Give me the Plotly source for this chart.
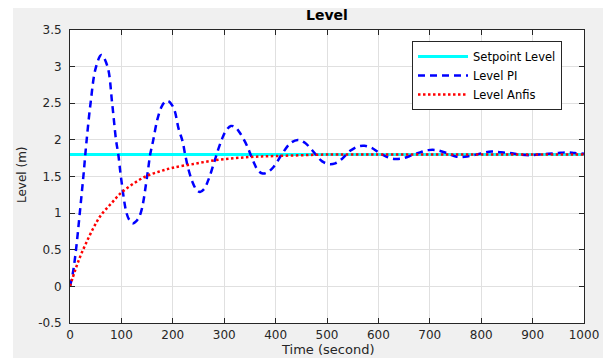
import plotly.graph_objects as go

# ---------------- data ----------------
setpoint_t = [0, 1000]
setpoint_v = [1.8, 1.8]

pi_t = [0, 6, 12, 19, 26, 32, 40, 50, 61, 73, 82, 89.5, 94, 99, 110, 116, 122, 129,
        137.5, 150, 156, 162, 170, 178, 185, 191, 198, 204, 211, 219, 224, 230, 238,
        246, 253, 261, 269, 279, 287, 295, 303, 313, 322, 331, 345, 357, 366, 375,
        385, 396, 412, 428, 443, 457, 477, 490, 503, 516, 529, 545, 560, 573, 587,
        602, 616, 632, 648, 665, 681, 697, 713, 733, 752, 768, 785, 803, 820, 838,
        856, 875, 895, 912, 931, 948, 966, 982, 1000]
pi_v = [0.00, 0.20, 0.52, 1.00, 1.50, 1.97, 2.50, 2.98, 3.16, 3.00, 2.50, 2.00, 1.80,
        1.50, 1.00, 0.90, 0.86, 0.89, 1.00, 1.50, 1.80, 2.00, 2.28, 2.45, 2.52, 2.53,
        2.48, 2.39, 2.16, 1.98, 1.80, 1.61, 1.43, 1.32, 1.29, 1.33, 1.45, 1.66, 1.84,
        2.00, 2.12, 2.19, 2.17, 2.09, 1.91, 1.70, 1.58, 1.54, 1.56, 1.63, 1.80, 1.95,
        2.00, 1.96, 1.81, 1.71, 1.67, 1.68, 1.74, 1.85, 1.91, 1.92, 1.89, 1.82, 1.77,
        1.74, 1.75, 1.79, 1.83, 1.86, 1.86, 1.82, 1.77, 1.77, 1.79, 1.82, 1.84, 1.83,
        1.82, 1.80, 1.79, 1.80, 1.81, 1.82, 1.83, 1.82, 1.81]

anfis_t = [0, 10, 20, 30, 45, 60, 80, 100, 125, 150, 175, 200, 240, 280, 320, 360,
           400, 450, 500, 600, 700, 800, 900, 1000]
anfis_v = [0.00, 0.22, 0.41, 0.57, 0.79, 0.97, 1.13, 1.28, 1.41, 1.51, 1.57, 1.62,
           1.67, 1.72, 1.75, 1.77, 1.78, 1.79, 1.80, 1.80, 1.80, 1.80, 1.80, 1.80]

x_ticks = [0, 100, 200, 300, 400, 500, 600, 700, 800, 900, 1000]
x_ticklabels = ["0", "100", "200", "300", "400", "500", "600", "700", "800", "900", "1000"]
y_ticks = [-0.5, 0, 0.5, 1, 1.5, 2, 2.5, 3, 3.5]
y_ticklabels = ["-0.5", "0", "0.5", "1", "1.5", "2", "2.5", "3", "3.5"]

series_names = ["Setpoint Level", "Level PI", "Level Anfis"]

# ---------------- figure ----------------
OFF = 8                      # page body margin
W, H = 611 - OFF, 358 - OFF
# target plot area in page pixels: x 70..584, y 30..323
ML, MR, MT, MB = 70 - OFF, 611 - 584, 30 - OFF, 358 - 323
FONT = "DejaVu Sans"
AX = "#262626"

fig = go.Figure()
fig.add_trace(go.Scatter(x=setpoint_t, y=setpoint_v, mode="lines", name=series_names[0],
                         line=dict(color="#00ffff", width=3)))
fig.add_trace(go.Scatter(x=pi_t, y=pi_v, mode="lines", name=series_names[1],
                         line=dict(color="#0000ff", width=2.5, dash="7px,5px",
                                   shape="spline", smoothing=1.0)))
fig.add_trace(go.Scatter(x=anfis_t, y=anfis_v, mode="lines", name=series_names[2],
                         line=dict(color="#ff0000", width=2.5, dash="2.5px,2.5px",
                                   shape="spline", smoothing=1.0)))

pw = W - ML - MR
ph = H - MT - MB


def px_x(p):
    """page pixel x -> paper coordinate"""
    return (p - OFF - ML) / pw


def px_y(p):
    """page pixel y -> paper coordinate"""
    return 1 - (p - OFF - MT) / ph


axis_common = dict(showline=True, linecolor=AX, linewidth=1, mirror="ticks",
                   ticks="inside", ticklen=5, tickcolor=AX, showgrid=True,
                   gridcolor="#e0e0e0", gridwidth=1, zeroline=False,
                   tickfont=dict(family=FONT, size=12, color=AX))

fig.update_layout(
    width=W, height=H,
    margin=dict(l=ML, r=MR, t=MT, b=MB, pad=0),
    paper_bgcolor="#f0f0f0",
    plot_bgcolor="#ffffff",
    showlegend=True,
    legend=dict(x=px_x(412), y=px_y(41), xanchor="left", yanchor="top",
                bgcolor="#ffffff", bordercolor=AX, borderwidth=1,
                font=dict(family=FONT, size=11.5, color="#000000"),
                itemwidth=50, tracegroupgap=0),
    xaxis=dict(range=[0, 1000], tickvals=x_ticks, ticktext=x_ticklabels,
               ticklabelstandoff=1, **axis_common),
    yaxis=dict(range=[-0.5, 3.5], tickvals=y_ticks, ticktext=y_ticklabels,
               ticklabelstandoff=5, **axis_common),
    shapes=[
        dict(type="rect", xref="paper", yref="paper", x0=-0.3, x1=px_x(13),
             y0=-0.3, y1=1.3, fillcolor="#ffffff", line=dict(width=0), layer="below"),
    ],
    annotations=[
        dict(text="<b>Level</b>", xref="paper", yref="paper", x=0.5, y=px_y(15),
             xanchor="center", yanchor="middle", showarrow=False,
             font=dict(family=FONT, size=14, color="#000000")),
        dict(text="Time (second)", xref="paper", yref="paper", x=0.5, y=px_y(349),
             xanchor="center", yanchor="middle", showarrow=False,
             font=dict(family=FONT, size=13, color=AX)),
        dict(text="Level (m)", xref="paper", yref="paper", x=px_x(22), y=px_y(175),
             xanchor="center", yanchor="middle", showarrow=False, textangle=-90,
             font=dict(family=FONT, size=12, color=AX)),
    ],
)

fig.write_html("out.html")
